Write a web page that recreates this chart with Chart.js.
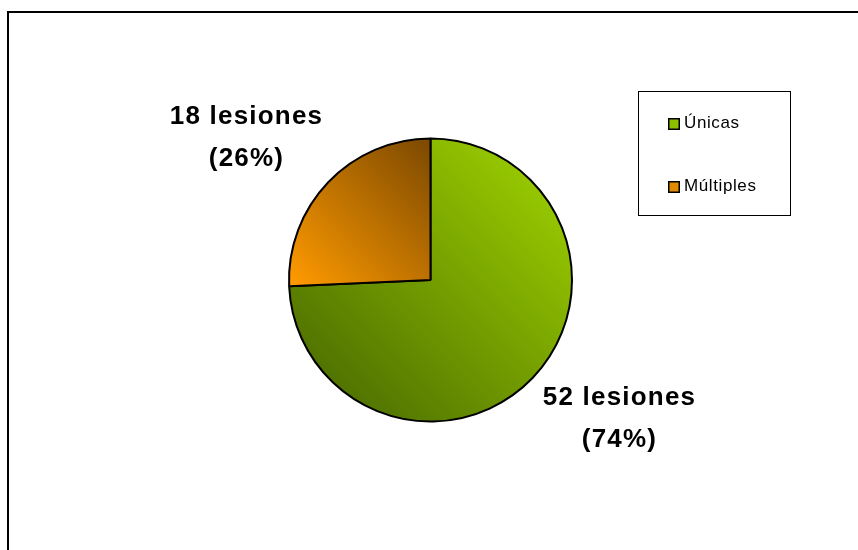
<!DOCTYPE html>
<html>
<head>
<meta charset="utf-8">
<script src="https://cdn.jsdelivr.net/npm/chart.js@4"></script>
<style>
  html, body { margin: 0; padding: 0; background: #fff; }
  #wrap { position: relative; width: 858px; height: 550px; overflow: hidden; }
  #frame { position: absolute; left: 7px; top: 11px; width: 900px; height: 600px; border-top: 2px solid #000; border-left: 2px solid #000; }
  canvas { position: absolute; left: 0; top: 0; }
</style>
</head>
<body>
<div id="wrap">
  <div id="frame"></div>
  <canvas id="c" width="858" height="550"></canvas>
</div>
<script>
// Lesiones únicas vs múltiples
const categories = ["Únicas", "Múltiples"];
const counts = [52, 18];
const percents = ["74%", "26%"];
const labelLines = counts.map((n, i) => [n + " lesiones", "(" + percents[i] + ")"]);

// gradient stops per slice: from top-right to bottom-left
const sliceGrad = [["#9acc00", "#4c6e00"], ["#7a4800", "#ff9a00"]];
const legendSwatch = ["#8cbf00", "#e08a00"];
// gradient box per slice, as fractions of radius around the centre [x0, y0, x1, y1]
const gradBox = [[0.8, -0.8, -0.8, 0.8], [0, -1, -1, 0]];

function gradFor(ctx, i) {
  const chart = ctx.chart;
  const a = chart.chartArea;
  if (!a) return sliceGrad[i][0];
  const cx = (a.left + a.right) / 2, cy = (a.top + a.bottom) / 2;
  const r = Math.min(a.right - a.left, a.bottom - a.top) / 2;
  const b = gradBox[i];
  const g = chart.ctx.createLinearGradient(cx + r * b[0], cy + r * b[1], cx + r * b[2], cy + r * b[3]);
  g.addColorStop(0, sliceGrad[i][0]);
  g.addColorStop(1, sliceGrad[i][1]);
  return g;
}

// value labels placed beside each slice
const labelOffsets = [[189, 139], [-184, -142]];
const sliceLabels = {
  id: "sliceLabels",
  afterDatasetsDraw(chart) {
    const c = chart.ctx;
    const arc0 = chart.getDatasetMeta(0).data[0];
    c.save();
    c.font = "bold 26px 'Liberation Sans', Arial, sans-serif";
    c.letterSpacing = "1.2px";
    c.fillStyle = "#000";
    c.textAlign = "center";
    c.textBaseline = "middle";
    labelLines.forEach((lines, i) => {
      const x = arc0.x + labelOffsets[i][0];
      const y = arc0.y + labelOffsets[i][1];
      c.fillText(lines[0], x, y - 21);
      c.fillText(lines[1], x, y + 21);
    });
    c.restore();
  }
};

// boxed legend on the right
const boxLegend = {
  id: "boxLegend",
  afterDraw(chart) {
    const c = chart.ctx;
    c.save();
    c.strokeStyle = "#000";
    c.lineWidth = 1;
    c.strokeRect(638.5, 91.5, 152, 124);
    c.font = "17px 'Liberation Sans', Arial, sans-serif";
    c.letterSpacing = "0.6px";
    c.textBaseline = "middle";
    c.textAlign = "left";
    categories.forEach((name, i) => {
      const y = 123 + i * 63;
      c.fillStyle = legendSwatch[i];
      c.fillRect(669, y - 4, 10, 10);
      c.strokeStyle = "#000";
      c.lineWidth = 1.5;
      c.strokeRect(668.75, y - 4.25, 10.5, 10.5);
      c.fillStyle = "#000";
      c.fillText(name, 684, y);
    });
    c.restore();
  }
};

new Chart(document.getElementById("c"), {
  type: "pie",
  data: {
    labels: categories,
    datasets: [{
      data: counts,
      backgroundColor: (ctx) => gradFor(ctx, ctx.dataIndex),
      borderColor: "#000",
      borderWidth: 2
    }]
  },
  options: {
    responsive: false,
    animation: false,
    layout: { padding: { left: 288, right: 285, top: 137, bottom: 127 } },
    plugins: { legend: { display: false }, tooltip: { enabled: false } }
  },
  plugins: [sliceLabels, boxLegend]
});
</script>
</body>
</html>
